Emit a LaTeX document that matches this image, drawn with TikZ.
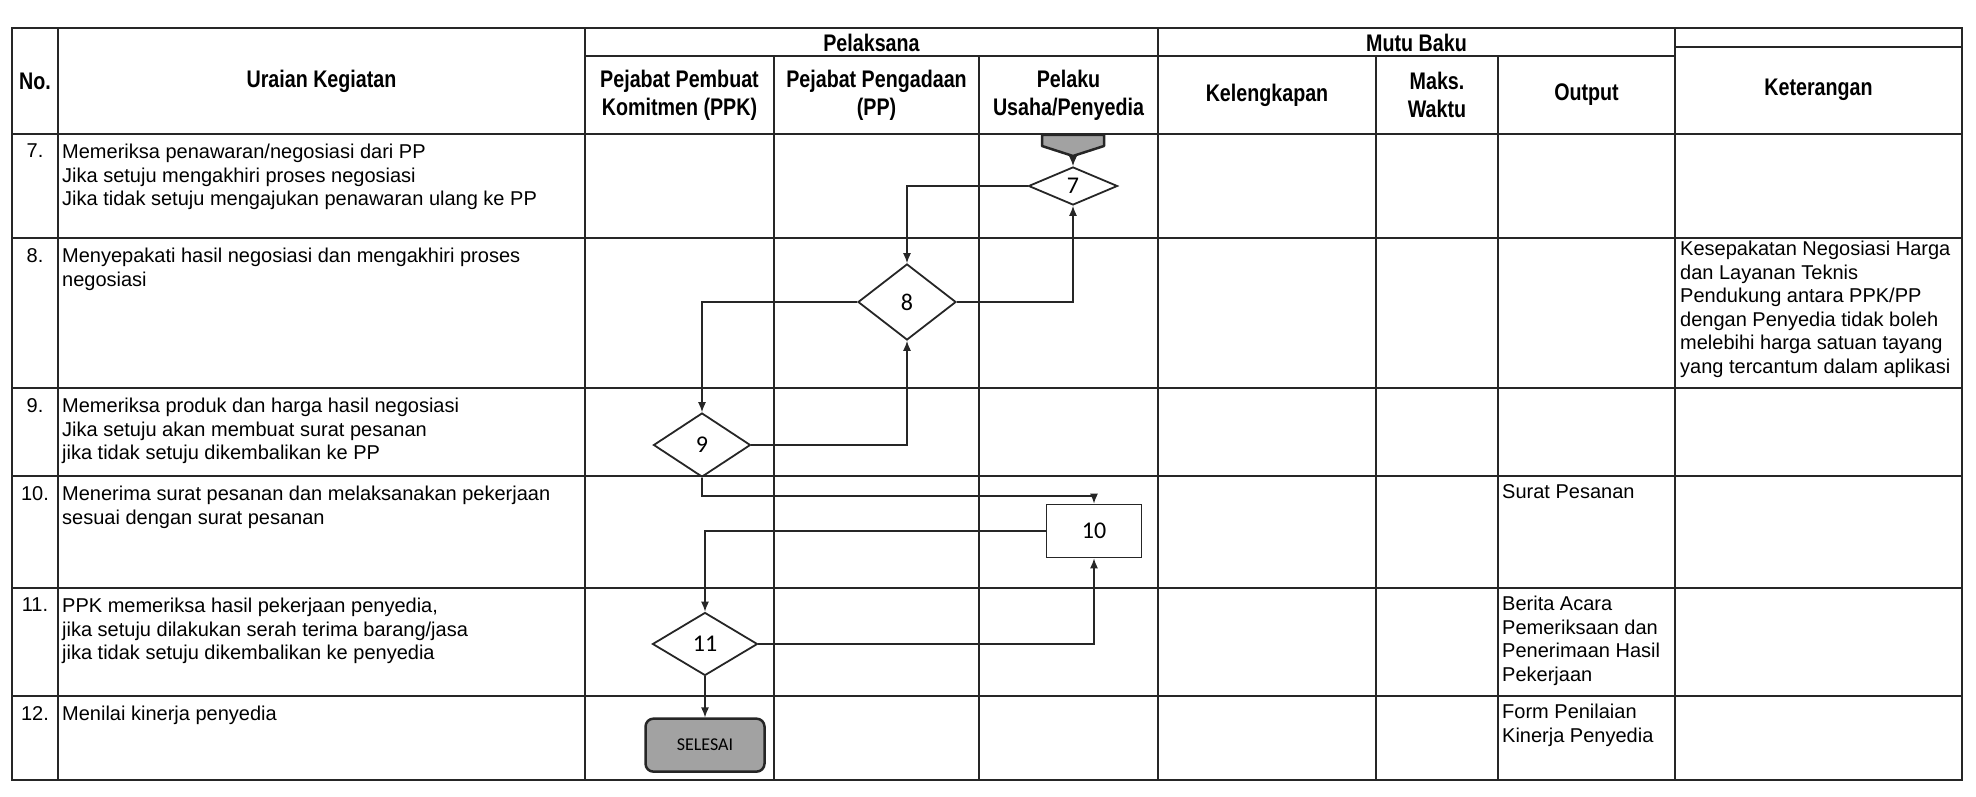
\documentclass[tikz,border=0pt]{standalone}
\usepackage{fontspec}
\setmainfont{Liberation Sans}
\newfontfamily\headfont[FakeStretch=0.82]{Liberation Sans}
\newfontfamily\flowfont{Carlito}
\usepackage{xcolor}
\usetikzlibrary{positioning,arrows.meta,shapes.geometric}
\definecolor{fillgray}{HTML}{A2A2A2}
\definecolor{ink}{HTML}{262626}

\begin{document}
\begin{tikzpicture}[x=1pt, y=-1pt,
  grid/.style={line width=1.8pt, draw=ink},
  head/.style={font=\headfont\bfseries\fontsize{24}{28}\selectfont, align=center, inner sep=0pt},
  body/.style={font=\fontsize{20}{23.5}\selectfont, align=left, anchor=north west, inner sep=0pt},
  num/.style={font=\fontsize{20}{23.5}\selectfont, anchor=north, inner sep=0pt},
  decision/.style={diamond, draw=ink, line width=1.8pt, inner sep=0pt,
                   font=\flowfont\fontsize{24}{24}\selectfont},
  process/.style={rectangle, draw=ink, line width=1.8pt, inner sep=0pt,
                  font=\flowfont\fontsize{24}{24}\selectfont},
  terminal/.style={rectangle, rounded corners=8pt, draw=ink, fill=fillgray, line width=2.5pt,
                   font=\flowfont\fontsize{18}{18}\selectfont},
  arr/.style={-{Latex[length=10pt,width=8pt]}, line width=1.2pt, draw=ink}
]
\useasboundingbox (0,0) rectangle (1976,797);

% table frame
\draw[grid] (12,28) rectangle (1962,780);
\draw[grid] (58,28) -- (58,780);
\draw[grid] (585,28) -- (585,780);
\draw[grid] (1158,28) -- (1158,780);
\draw[grid] (1675,28) -- (1675,780);
\draw[grid] (774,56) -- (774,780);
\draw[grid] (979,56) -- (979,780);
\draw[grid] (1376,56) -- (1376,780);
\draw[grid] (1498,56) -- (1498,780);
\draw[grid] (585,56) -- (1675,56);
\draw[grid] (1675,47) -- (1962,47);
% row lines
\draw[grid] (12,134) -- (1962,134);
\draw[grid] (12,238) -- (1962,238);
\draw[grid] (12,388) -- (1962,388);
\draw[grid] (12,476) -- (1962,476);
\draw[grid] (12,588) -- (1962,588);
\draw[grid] (12,696) -- (1962,696);

% header
\node[head] (hno) at (35,81) {No.};
\node[head] (hura) at (321.5,81) {Uraian Kegiatan};
\node[head] (hpel) at (871.5,43) {Pelaksana};
\node[head] (hmutu) at (1416.5,43) {Mutu Baku};
\node[head] (hppk) at (679.5,95) {Pejabat Pembuat\\Komitmen (PPK)};
\node[head] (hpp) at (876.5,95) {Pejabat Pengadaan\\(PP)};
\node[head] (hpu) at (1068.5,95) {Pelaku\\Usaha/Penyedia};
\node[head] (hkel) at (1267,95) {Kelengkapan};
\node[head] (hmaks) at (1437,95) {Maks.\\Waktu};
\node[head] (hout) at (1586.5,95) {Output};
\node[head] (hket) at (1818.5,90) {Keterangan};

% activities
\node[num] (n7) at (35,144) {7.};
\node[body] (u7) at (62,144) {Memeriksa penawaran/negosiasi dari PP\\
  Jika setuju mengakhiri proses negosiasi\\Jika tidak setuju mengajukan penawaran ulang ke PP};
\node[num] (n8) at (35,248) {8.};
\node[body] (u8) at (62,248) {Menyepakati hasil negosiasi dan mengakhiri proses\\negosiasi};
\node[num] (n9) at (35,398) {9.};
\node[body] (u9) at (62,398) {Memeriksa produk dan harga hasil negosiasi\\
  Jika setuju akan membuat surat pesanan\\jika tidak setuju dikembalikan ke PP};
\node[num] (n10) at (35,486) {10.};
\node[body] (u10) at (62,486) {Menerima surat pesanan dan melaksanakan pekerjaan\\sesuai dengan surat pesanan};
\node[num] (n11) at (35,598) {11.};
\node[body] (u11) at (62,598) {PPK memeriksa hasil pekerjaan penyedia,\\
  jika setuju dilakukan serah terima barang/jasa\\jika tidak setuju dikembalikan ke penyedia};
\node[num] (n12) at (35,706) {12.};
\node[body] (u12) at (62,706) {Menilai kinerja penyedia};

% output and remarks
\node[body] (o10) at (1502,484) {Surat Pesanan};
\node[body] (o11) at (1502,596) {Berita Acara\\Pemeriksaan dan\\Penerimaan Hasil\\Pekerjaan};
\node[body] (o12) at (1502,704) {Form Penilaian\\Kinerja Penyedia};
\node[body] (k8) at (1680,241) {Kesepakatan Negosiasi Harga\\dan Layanan Teknis\\
  Pendukung antara PPK/PP\\dengan Penyedia tidak boleh\\melebihi harga satuan tayang\\
  yang tercantum dalam aplikasi};

% flow
\filldraw[fill=fillgray, draw=ink, line width=2.5pt, line join=round]
  (1042,135) -- (1104,135) -- (1104,146) -- (1073,156) -- (1042,146) -- cycle;
\coordinate (start) at (1073,156);
\node[decision, minimum width=89pt, minimum height=38pt] (d7) at (1073,186) {7};
\node[decision, minimum width=98pt, minimum height=76pt] (d8) at (907,302) {8};
\node[decision, minimum width=97pt, minimum height=64pt] (d9) at (702,445) {9};
\node[process, minimum width=95pt, minimum height=53pt] (b10) at (1094,531) {10};
\node[decision, minimum width=105pt, minimum height=63pt] (d11) at (705,644) {11};
\node[terminal, minimum width=119pt, minimum height=53pt, below=41pt of d11] (stop) {SELESAI};

\draw[arr] (start) -- (d7.north);
\draw[arr] (d7.west) -| (d8.north);
\draw[arr] (d8.east) -| (d7.south);
\draw[arr] (d8.west) -| (d9.north);
\draw[arr] (d9.east) -| (d8.south);
\draw[arr] (d9.south) -- ++(0,18) -| (b10.north);
\draw[arr] (b10.west) -| (d11.north);
\draw[arr] (d11.east) -| (b10.south);
\draw[arr] (d11.south) -- (stop.north);
\end{tikzpicture}
\end{document}
